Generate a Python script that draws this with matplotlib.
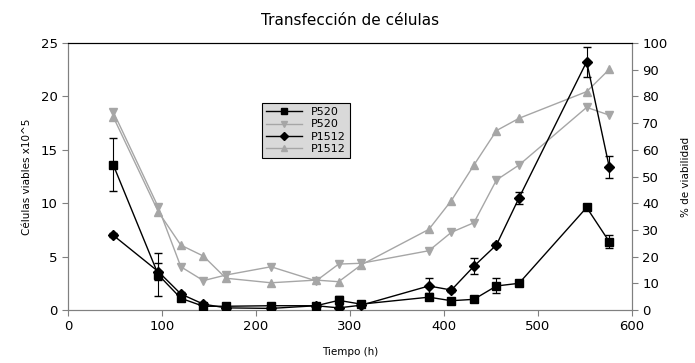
import matplotlib
matplotlib.use('Agg')
import matplotlib.pyplot as plt
from matplotlib.lines import Line2D

# --- data ---
tiempo = [48, 96, 120, 144, 168, 216, 264, 288, 312, 384, 408, 432, 456, 480, 552, 576]

# viable cells x10^5 (left axis)
p520_cel = [13.6, 3.3, 1.1, 0.35, 0.35, 0.4, 0.4, 0.9, 0.55, 1.2, 0.87, 1.0, 2.25, 2.5, 9.6, 6.4]
p520_err = [2.5, 2.0, 0.2, 0.1, 0.1, 0.1, 0.1, 0.4, 0.2, 0.2, 0.1, 0.1, 0.7, 0.2, 0.2, 0.6]
p1512_cel = [7.0, 3.6, 1.5, 0.55, 0.2, 0.15, 0.4, 0.2, 0.45, 2.25, 1.87, 4.1, 6.1, 10.5, 23.25, 13.4]
p1512_err = [0.2, 0.8, 0.2, 0.1, 0.1, 0.1, 0.1, 0.1, 0.1, 0.7, 0.2, 0.75, 0.2, 0.55, 1.4, 1.0]

# % viability (right axis)
p520_via = [74.3, 38.5, 16.2, 11.0, 13.1, 16.2, 10.9, 17.2, 17.5, 22.2, 29.1, 32.7, 48.7, 54.3, 75.9, 73.0]
p1512_via = [72.4, 36.8, 24.3, 20.2, 11.9, 10.2, 11.2, 10.6, 16.9, 30.2, 41.0, 54.3, 67.2, 71.8, 81.8, 90.1]

etiquetas = ['P520', 'P520', 'P1512', 'P1512']

gris = '#a6a6a6'

fig = plt.figure(figsize=(6.95, 3.63), dpi=100)
ax = fig.add_axes([0.098, 0.146, 0.811, 0.7355])
ax2 = ax.twinx()

ax.errorbar(tiempo, p520_cel, yerr=p520_err, color='black', marker='s', ms=6,
            lw=1, capsize=3, elinewidth=0.8, zorder=3)
ax2.plot(tiempo, p520_via, color=gris, marker='v', ms=6, lw=1)
ax.errorbar(tiempo, p1512_cel, yerr=p1512_err, color='black', marker='D', ms=5,
            lw=1, capsize=3, elinewidth=0.8, zorder=3)
ax2.plot(tiempo, p1512_via, color=gris, marker='^', ms=6, lw=1)

ax.set_zorder(ax2.get_zorder() + 1)
ax.patch.set_visible(False)

ax.set_xlim(0, 600)
ax.set_ylim(0, 25)
ax2.set_ylim(0, 100)
ax.set_xticks(range(0, 601, 100))
ax.set_yticks(range(0, 26, 5))
ax2.set_yticks(range(0, 101, 10))

for a in (ax, ax2):
    for s in ('left', 'right', 'bottom'):
        a.spines[s].set_color('#808080')
    a.spines['top'].set_color('black')
    a.tick_params(colors='#808080', labelcolor='black', labelsize=9.5, length=4, width=0.8)

ax.set_xlabel('Tiempo (h)', fontsize=7.5, labelpad=10)
ax.set_ylabel('Células viables x10^5', fontsize=7.5, labelpad=6)
ax2.set_ylabel('% de viabilidad', fontsize=7.5, labelpad=10)
ax.set_title('Transfección de células', fontsize=11, pad=13)

# legend proxies (no error bars in the legend)
handles = [Line2D([], [], color='black', marker='s', ms=5, lw=1),
           Line2D([], [], color=gris, marker='v', ms=5, lw=1),
           Line2D([], [], color='black', marker='D', ms=4, lw=1),
           Line2D([], [], color=gris, marker='^', ms=5, lw=1)]
leg = ax.legend(handles, etiquetas, loc='upper left', bbox_to_anchor=(0.335, 0.795),
                fontsize=8, frameon=True, fancybox=False, facecolor='#d9d9d9',
                edgecolor='black', framealpha=1, handlelength=3.2, borderpad=0.35,
                labelspacing=0.2)
leg.get_frame().set_linewidth(0.8)

fig.savefig('out.png', dpi=100)
